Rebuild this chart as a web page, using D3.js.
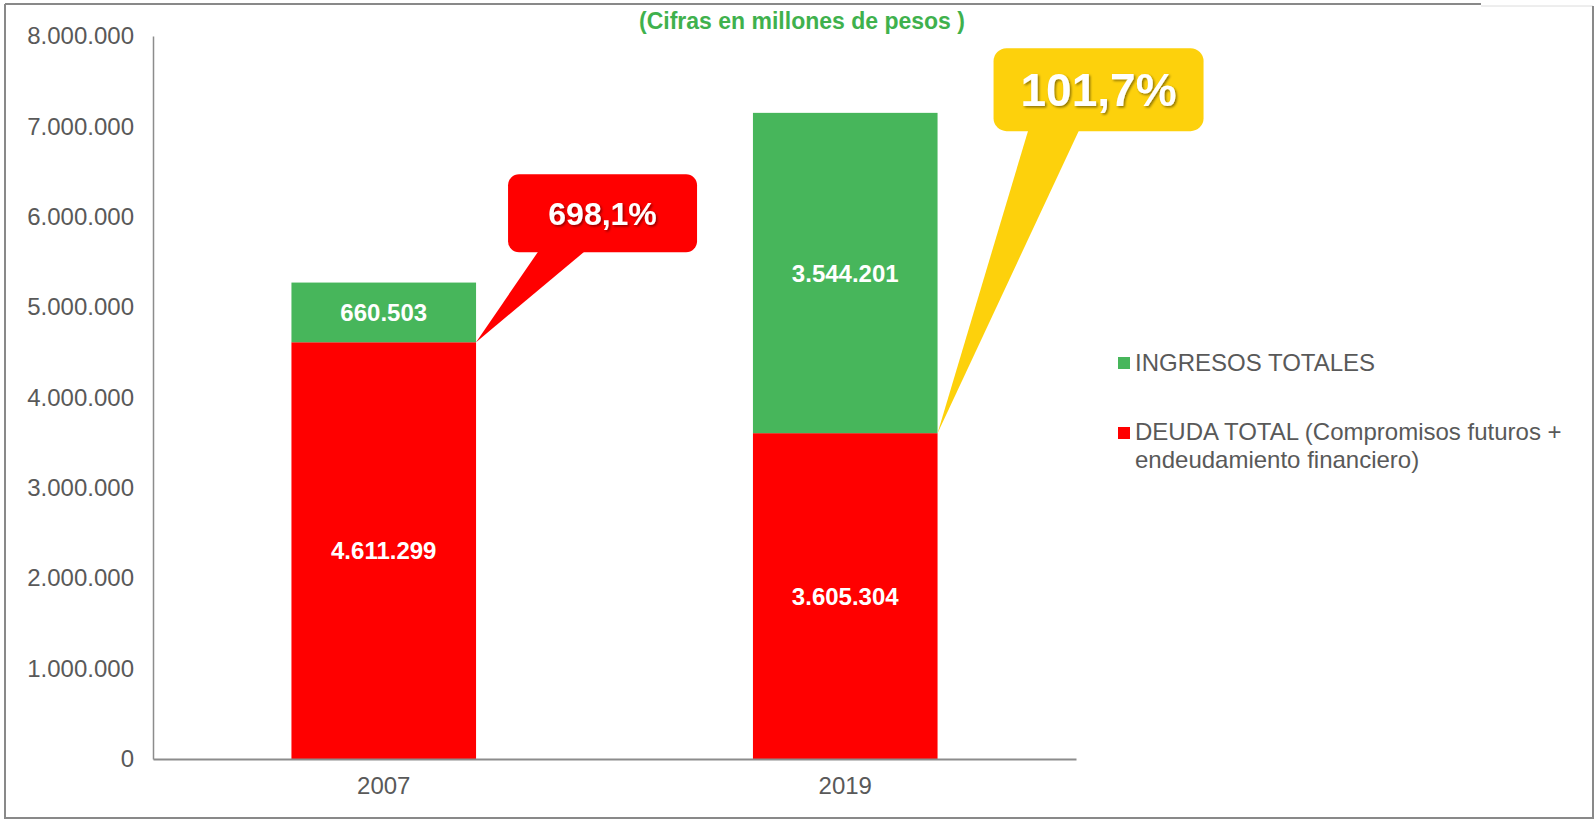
<!DOCTYPE html>
<html>
<head>
<meta charset="utf-8">
<script src="https://cdn.jsdelivr.net/npm/d3@7"></script>
<style>
  body { margin: 0; background: #fff; }
  svg { display: block; font-family: Arial, "Liberation Sans", sans-serif; }
</style>
</head>
<body>
<div id="chart"></div>
<script>
// data
var years = ["2007", "2019"];
var deuda = [4611299, 3605304];
var ingresos = [660503, 3544201];
var yTicks = [0, 1000000, 2000000, 3000000, 4000000, 5000000, 6000000, 7000000, 8000000];
var seriesNames = ["INGRESOS TOTALES", "DEUDA TOTAL (Compromisos futuros +", "endeudamiento financiero)"];
var calloutText = ["698,1%", "101,7%"];

var svgWidth = 1596;
var svgHeight = 820;

var RED = "#ff0000";
var GREEN = "#47b65b";
var YELLOW = "#fdd10c";
var TEXT = "#595959";

var svg = d3.select("#chart")
  .append("svg")
  .attr("width", svgWidth)
  .attr("height", svgHeight);

// shadow for callout text
var defs = svg.append("defs");
var f = defs.append("filter").attr("id", "shadow")
  .attr("x", "-10%").attr("y", "-10%").attr("width", "130%").attr("height", "140%");
f.append("feDropShadow")
  .attr("dx", 1.5).attr("dy", 1.5).attr("stdDeviation", 1)
  .attr("flood-color", "#000").attr("flood-opacity", 0.45);

// outer frame
svg.append("line").attr("x1", 5).attr("x2", 1481).attr("y1", 4).attr("y2", 4)
  .attr("stroke", "#898989").attr("stroke-width", 2);
svg.append("line").attr("x1", 1481).attr("x2", 1593).attr("y1", 6).attr("y2", 6)
  .attr("stroke", "#dcdcdc").attr("stroke-width", 1);
svg.append("path")
  .attr("d", "M5,4 V818 H1593 V6")
  .attr("fill", "none")
  .attr("stroke", "#898989")
  .attr("stroke-width", 2);

// scales
var x = d3.scaleBand()
  .domain(years)
  .range([153, 1076])
  .paddingInner(0.6)
  .paddingOuter(0.3);

var y = d3.scaleLinear()
  .domain([0, 8000000])
  .range([759, 36]);

var fmt = function(v) { return d3.format(",")(v).replace(/,/g, "."); };

// y axis
var yAxis = svg.append("g")
  .attr("transform", "translate(153,0)")
  .call(d3.axisLeft(y).tickValues(yTicks).tickSize(0).tickPadding(19).tickFormat(fmt));
yAxis.select(".domain").attr("stroke", "#8c8c8c").attr("stroke-width", 1.5);
yAxis.selectAll("text")
  .attr("fill", TEXT)
  .attr("font-size", "24px")
  .attr("font-family", "Arial, 'Liberation Sans', sans-serif");

// bars
var stacks = years.map(function(yr, i) {
  return { year: yr, deuda: deuda[i], ingresos: ingresos[i] };
});

svg.selectAll(".deuda")
  .data(stacks)
  .enter()
  .append("rect")
  .attr("class", "deuda")
  .attr("x", d => x(d.year))
  .attr("width", x.bandwidth())
  .attr("y", d => y(d.deuda))
  .attr("height", d => y(0) - y(d.deuda))
  .attr("fill", RED);

svg.selectAll(".ingresos")
  .data(stacks)
  .enter()
  .append("rect")
  .attr("class", "ingresos")
  .attr("x", d => x(d.year))
  .attr("width", x.bandwidth())
  .attr("y", d => y(d.deuda + d.ingresos))
  .attr("height", d => y(d.deuda) - y(d.deuda + d.ingresos))
  .attr("fill", GREEN);

// x axis
var xAxis = svg.append("g")
  .attr("transform", "translate(0,759)")
  .call(d3.axisBottom(x).tickSize(0).tickPadding(18));
xAxis.select(".domain").attr("stroke", "#8c8c8c").attr("stroke-width", 2);
xAxis.selectAll("text")
  .attr("fill", TEXT)
  .attr("font-size", "24px")
  .attr("font-family", "Arial, 'Liberation Sans', sans-serif");

// data labels
svg.selectAll(".lblDeuda")
  .data(stacks)
  .enter()
  .append("text")
  .attr("x", d => x(d.year) + x.bandwidth() / 2)
  .attr("y", d => y(d.deuda / 2))
  .attr("dy", "0.36em")
  .attr("text-anchor", "middle")
  .attr("fill", "#fff")
  .attr("font-weight", "bold")
  .attr("font-size", "24px")
  .text(d => fmt(d.deuda));

svg.selectAll(".lblIngresos")
  .data(stacks)
  .enter()
  .append("text")
  .attr("x", d => x(d.year) + x.bandwidth() / 2)
  .attr("y", d => y(d.deuda + d.ingresos / 2))
  .attr("dy", "0.36em")
  .attr("text-anchor", "middle")
  .attr("fill", "#fff")
  .attr("font-weight", "bold")
  .attr("font-size", "24px")
  .text(d => fmt(d.ingresos));

// title
svg.append("text")
  .attr("x", 802)
  .attr("y", 29)
  .attr("text-anchor", "middle")
  .attr("fill", "#3fb14d")
  .attr("font-weight", "bold")
  .attr("font-size", "23px")
  .text("(Cifras en millones de pesos )");

// callouts: box offsets relative to the tip (top right corner of the red segment)
var callouts = [
  { i: 0, color: RED, box: [32, -168, 189, 78], base: [63, 110], r: 11, size: 32 },
  { i: 1, color: YELLOW, box: [56, -385, 210, 83], base: [91, 142], r: 13, size: 46 }
];

callouts.forEach(function(c) {
  var tx = x(years[c.i]) + x.bandwidth();
  var ty = y(deuda[c.i]);
  var bx = tx + c.box[0], by = ty + c.box[1], bw = c.box[2], bh = c.box[3];
  var g = svg.append("g");
  g.append("rect")
    .attr("x", bx).attr("y", by)
    .attr("width", bw).attr("height", bh)
    .attr("rx", c.r).attr("ry", c.r)
    .attr("fill", c.color);
  g.append("path")
    .attr("d", "M" + (tx + c.base[0]) + "," + (by + bh - 2) +
      " L" + tx + "," + ty +
      " L" + (tx + c.base[1]) + "," + (by + bh - 2) + " Z")
    .attr("fill", c.color);
  g.append("text")
    .attr("x", bx + bw / 2)
    .attr("y", by + bh / 2)
    .attr("dy", "0.36em")
    .attr("text-anchor", "middle")
    .attr("fill", "#fff")
    .attr("font-weight", "bold")
    .attr("font-size", c.size + "px")
    .attr("filter", "url(#shadow)")
    .text(calloutText[c.i]);
});

// legend
var legend = svg.append("g").attr("font-size", "24px").attr("fill", TEXT);
legend.append("rect").attr("x", 1118).attr("y", 357).attr("width", 12).attr("height", 12).attr("fill", GREEN);
legend.append("text").attr("x", 1135).attr("y", 371).text(seriesNames[0]);
legend.append("rect").attr("x", 1118).attr("y", 427).attr("width", 12).attr("height", 12).attr("fill", RED);
legend.append("text").attr("x", 1135).attr("y", 440).text(seriesNames[1]);
legend.append("text").attr("x", 1135).attr("y", 468).text(seriesNames[2]);
</script>
</body>
</html>
